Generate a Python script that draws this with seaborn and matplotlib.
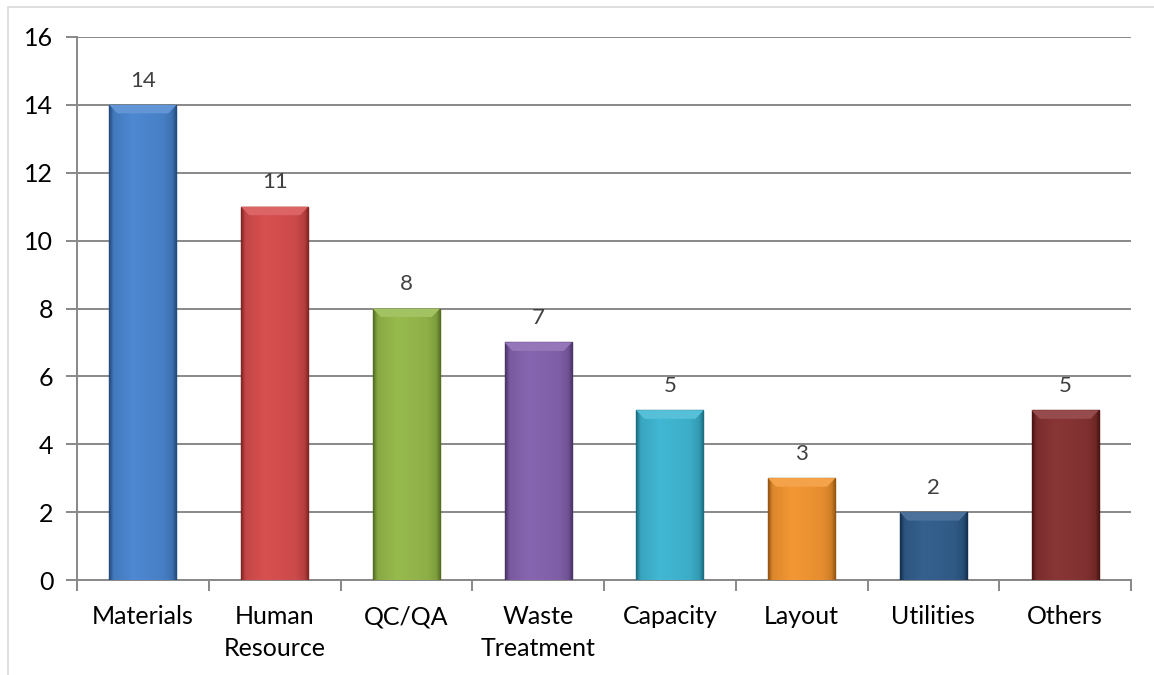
"""
Bar chart of issue counts by category (Excel-style bevelled bars).
"""

import numpy as np
import pandas as pd
import matplotlib
matplotlib.use("Agg")
import matplotlib.pyplot as plt
import matplotlib.colors as mcolors
from matplotlib.lines import Line2D
import seaborn as sns

CATEGORIES = ["Materials", "Human\nResource", "QC/QA", "Waste\nTreatment",
              "Capacity", "Layout", "Utilities", "Others"]
COUNTS     = [14, 11, 8, 7, 5, 3, 2, 5]
COLORS     = ["#3A7BCC", "#D43D3D", "#8CB33A", "#7A55A8",
              "#2DB0CF", "#F28C1E", "#1F4F82", "#7C1F1F"]
Y_TICKS    = [0, 2, 4, 6, 8, 10, 12, 14, 16]

GRID  = "#888888"
TEXT  = "#000000"
LABEL = "#404040"

sns.set_theme(style="white")
plt.rcParams["font.family"] = ["Lato", "DejaVu Sans"]

df = pd.DataFrame({"category": CATEGORIES, "count": COUNTS})

fig = plt.figure(figsize=(11.54, 6.75), dpi=100)
ax = fig.add_axes([77 / 1154, 95 / 675, (1131 - 77) / 1154, (580 - 37) / 675])

sns.barplot(data=df, x="category", y="count", hue="category",
            palette=COLORS, width=0.51, legend=False, ax=ax, zorder=3,
            saturation=1)

# bevel-ish shading on each bar
for patch, col in zip(ax.patches, COLORS):
    x0, y0 = patch.get_x(), patch.get_y()
    w, h = patch.get_width(), patch.get_height()
    base = np.array(mcolors.to_rgb(col))
    dark = base * 0.62
    light = np.clip(base + (1 - base) * 0.10, 0, 1)
    xs = np.linspace(0, 1, 60)
    prof = np.interp(xs, [0, 0.06, 0.35, 0.8, 0.94, 1], [0, 0.75, 1, 0.85, 0.6, 0])
    img = dark[None, :] + (light - dark)[None, :] * prof[:, None]
    img = np.repeat(img[None, :, :], 2, axis=0)
    im = ax.imshow(img, extent=[x0, x0 + w, y0, y0 + h], aspect="auto",
                   zorder=3.5, interpolation="bilinear")
    im.set_clip_path(patch)
    patch.set_edgecolor(tuple(base * 0.55))
    patch.set_linewidth(1.0)
    # light top bevel
    bh = 0.25
    ax.fill([x0, x0 + w, x0 + w * 0.88, x0 + w * 0.12],
            [y0 + h, y0 + h, y0 + h - bh, y0 + h - bh],
            color=tuple(np.clip(base + (1 - base) * 0.2, 0, 1)), zorder=3.6, lw=0)
    ax.text(x0 + w / 2, y0 + h + 0.42, f"{h:.0f}", ha="center", va="bottom",
            fontsize=16, color=LABEL, zorder=5)

ax.set_xlim(-0.5, len(CATEGORIES) - 0.5)
ax.set_ylim(0, 16)
ax.set_yticks(Y_TICKS)
ax.set_xlabel("")
ax.set_ylabel("")

ax.grid(axis="y", color=GRID, linewidth=1.4, zorder=0)
ax.grid(axis="x", visible=False)
for side in ["top", "right"]:
    ax.spines[side].set_visible(False)
for side in ["left", "bottom"]:
    ax.spines[side].set_color(GRID)
    ax.spines[side].set_linewidth(1.4)

ax.tick_params(axis="y", which="major", direction="out", length=8, width=1.4,
               color=GRID, labelsize=18, labelcolor=TEXT, pad=9, left=True)
ax.tick_params(axis="x", which="major", length=0, labelsize=18,
               labelcolor=TEXT, pad=18)
ax.set_xticks(np.arange(-0.5, len(CATEGORIES)), minor=True)
ax.tick_params(axis="x", which="minor", direction="out", length=8, width=1.4,
               color=GRID, bottom=True)
for lbl in ax.get_xticklabels():
    lbl.set_linespacing(1.5)
    lbl.set_va("top")

# light chart-area border (left and top only)
border = "#D9D9D9"
fig.add_artist(Line2D([8 / 1154, 8 / 1154], [0, 1 - 7 / 675], color=border, lw=1.2))
fig.add_artist(Line2D([8 / 1154, 1], [1 - 7 / 675, 1 - 7 / 675], color=border, lw=1.2))

fig.savefig("out.png", dpi=100)
